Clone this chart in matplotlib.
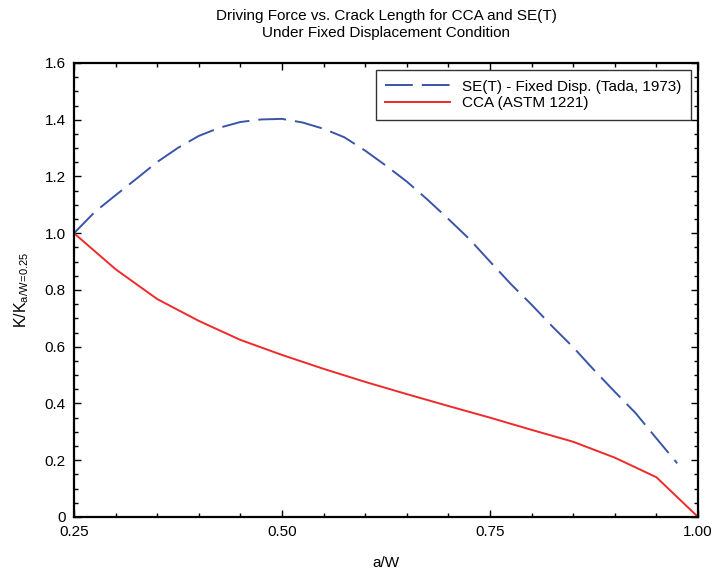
import matplotlib
matplotlib.use('Agg')
import matplotlib.pyplot as plt
from matplotlib.ticker import MultipleLocator, FixedLocator

# SE(T) fixed displacement (Tada, 1973)
set_aw = [0.25, 0.275, 0.30, 0.325, 0.35, 0.375, 0.40, 0.425, 0.45, 0.475,
          0.50, 0.525, 0.55, 0.575, 0.60, 0.625, 0.65, 0.675, 0.70, 0.725,
          0.75, 0.775, 0.80, 0.825, 0.85, 0.875, 0.90, 0.925, 0.95, 0.975]
set_k = [1.000, 1.075, 1.134, 1.192, 1.251, 1.301, 1.343, 1.372, 1.392, 1.401,
         1.403, 1.390, 1.368, 1.338, 1.291, 1.238, 1.182, 1.118, 1.050, 0.980,
         0.900, 0.821, 0.748, 0.671, 0.598, 0.518, 0.441, 0.366, 0.277, 0.189]

# CCA (ASTM 1221)
cca_aw = [0.25, 0.30, 0.35, 0.40, 0.45, 0.50, 0.55, 0.60, 0.65, 0.70,
          0.75, 0.80, 0.85, 0.90, 0.95, 1.00]
cca_k = [1.000, 0.873, 0.768, 0.691, 0.624, 0.571, 0.522, 0.476, 0.433, 0.391,
         0.350, 0.307, 0.265, 0.209, 0.140, 0.0]

xticks = [0.25, 0.50, 0.75, 1.00]
xtick_labels = ['0.25', '0.50', '0.75', '1.00']
yticks = [0, 0.2, 0.4, 0.6, 0.8, 1.0, 1.2, 1.4, 1.6]
ytick_labels = ['0', '0.2', '0.4', '0.6', '0.8', '1.0', '1.2', '1.4', '1.6']

plt.rcParams['font.family'] = ['Liberation Sans', 'DejaVu Sans']
plt.rcParams['lines.scale_dashes'] = False

fig = plt.figure(figsize=(7.13, 5.72), dpi=100)
ax = fig.add_axes([0.1038, 0.0962, 0.979 - 0.1038, 0.8899 - 0.0962])

ax.plot(set_aw, set_k, color='#3a55a8', lw=1.4, linestyle=(0, (20, 6.5)),
        label='SE(T) - Fixed Disp. (Tada, 1973)')
ax.plot(cca_aw, cca_k, color='#ee2a2a', lw=1.4, label='CCA (ASTM 1221)')

ax.set_xlim(0.25, 1.0)
ax.set_ylim(0, 1.6)
ax.xaxis.set_major_locator(FixedLocator(xticks))
ax.set_xticklabels(xtick_labels)
ax.yaxis.set_major_locator(FixedLocator(yticks))
ax.set_yticklabels(ytick_labels)
ax.xaxis.set_minor_locator(MultipleLocator(0.05))
ax.yaxis.set_minor_locator(MultipleLocator(0.05))
ax.tick_params(which='both', direction='in', top=True, right=True,
               labelsize=11, width=1.0)
ax.tick_params(which='major', length=5, pad=6)
ax.tick_params(which='minor', length=3)
for s in ax.spines.values():
    s.set_linewidth(1.6)

ax.set_xlabel('a/W', fontsize=11, labelpad=12)
ax.set_ylabel(r'K/K$_{\mathregular{a/W\!=\!0.25}}$', fontsize=11.5, labelpad=10)
ax.set_title('Driving Force vs. Crack Length for CCA and SE(T)\n'
             'Under Fixed Displacement Condition', fontsize=11, pad=19,
             linespacing=1.25)

leg = ax.legend(loc='upper right', fontsize=11, fancybox=False,
                edgecolor='#333333', framealpha=1, handlelength=4.2,
                borderpad=0.65, labelspacing=0.15, borderaxespad=0.45)
leg.get_frame().set_linewidth(1.0)

fig.savefig('out.png', dpi=100)
